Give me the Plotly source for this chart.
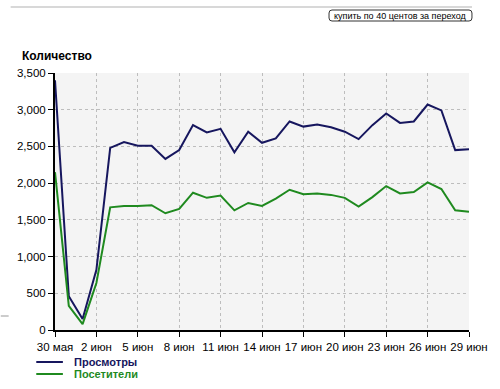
import plotly.graph_objects as go
import pandas as pd

dates = pd.date_range("2009-05-30", "2009-06-29", freq="D")
views = [3400, 460, 150, 820, 2480, 2560, 2510, 2510, 2330, 2450, 2790, 2690, 2740, 2420,
         2700, 2550, 2610, 2840, 2770, 2800, 2760, 2700, 2600, 2790, 2950, 2820, 2840,
         3070, 2990, 2450, 2460]
visitors = [2150, 330, 80, 640, 1670, 1690, 1690, 1700, 1590, 1650, 1870, 1800, 1830, 1630,
            1730, 1690, 1790, 1910, 1850, 1860, 1840, 1800, 1680, 1810, 1960, 1860, 1880,
            2010, 1920, 1630, 1610]
tick_dates = dates[::3]
tick_labels = ["30 мая", "2 июн", "5 июн", "8 июн", "11 июн", "14 июн", "17 июн",
               "20 июн", "23 июн", "26 июн", "29 июн"]
series_names = ["Просмотры", "Посетители"]
BLUE = "#16165e"
GREEN = "#1f8a1f"

W, H = 500, 389
L, R, T, B = 55, 475, 73, 330


def px(x):
    return (x - L) / (R - L)


def py(y):
    return (B - y) / (B - T)


fig = go.Figure()
fig.add_trace(go.Scatter(x=dates, y=views, mode="lines", name=series_names[0],
                         line=dict(color=BLUE, width=2)))
fig.add_trace(go.Scatter(x=dates, y=visitors, mode="lines", name=series_names[1],
                         line=dict(color=GREEN, width=2)))

font = "Liberation Sans, Arial, sans-serif"
fig.update_layout(
    width=W, height=H,
    margin=dict(l=L, r=W - R, t=T, b=H - B, pad=0),
    paper_bgcolor="white", plot_bgcolor="#f4f4f4",
    showlegend=False,
    font=dict(family=font, size=11, color="black"),
    xaxis=dict(range=[dates[0], dates[-1]], tickvals=tick_dates, ticktext=tick_labels,
               showline=True, linecolor="black", linewidth=2, ticks="outside",
               ticklen=5, tickcolor="black", tickwidth=1,
               showgrid=True, gridcolor="#bdbdbd", griddash="dot", gridwidth=1,
               zeroline=False, tickfont=dict(size=11.5), fixedrange=True),
    yaxis=dict(range=[0, 3500], dtick=500, tickformat=",d",
               showline=True, linecolor="black", linewidth=2, ticks="outside",
               ticklen=5, tickcolor="black", tickwidth=1,
               showgrid=True, gridcolor="#bdbdbd", griddash="dot", gridwidth=1,
               zeroline=False, tickfont=dict(size=11.5), fixedrange=True),
)

shapes = []
annotations = []

# title
annotations.append(dict(x=px(19), y=py(56), xref="paper", yref="paper", text="<b>Количество</b>",
                        showarrow=False, xanchor="left", yanchor="middle",
                        font=dict(size=12, family=font, color="black")))

# top separator line
shapes.append(dict(type="line", xref="paper", yref="paper", x0=px(10), x1=px(478),
                   y0=py(7), y1=py(7), line=dict(color="#d8d8d8", width=2)))
# small artifact line on left
shapes.append(dict(type="line", xref="paper", yref="paper", x0=px(0), x1=px(8),
                   y0=py(316), y1=py(316), line=dict(color="#999999", width=1)))

# button (rounded rect)
bx0, bx1, by0, by1, r = 333, 478, 10, 21, 3
path = (f"M {px(bx0 + r)},{py(by0)} L {px(bx1 - r)},{py(by0)} "
        f"Q {px(bx1)},{py(by0)} {px(bx1)},{py(by0 + r)} L {px(bx1)},{py(by1 - r)} "
        f"Q {px(bx1)},{py(by1)} {px(bx1 - r)},{py(by1)} L {px(bx0 + r)},{py(by1)} "
        f"Q {px(bx0)},{py(by1)} {px(bx0)},{py(by1 - r)} L {px(bx0)},{py(by0 + r)} "
        f"Q {px(bx0)},{py(by0)} {px(bx0 + r)},{py(by0)} Z")
shapes.append(dict(type="path", xref="paper", yref="paper", path=path,
                   line=dict(color="#333333", width=1), fillcolor="white"))
annotations.append(dict(x=px((bx0 + bx1) / 2), y=py((by0 + by1) / 2 + 0.5), xref="paper", yref="paper",
                        text="купить по 40 центов за переход", showarrow=False,
                        xanchor="center", yanchor="middle",
                        font=dict(size=9, family=font, color="black")))

# legend
for i, (name, col, yy) in enumerate([(series_names[0], BLUE, 362), (series_names[1], GREEN, 374)]):
    shapes.append(dict(type="line", xref="paper", yref="paper", x0=px(36), x1=px(63),
                       y0=py(yy), y1=py(yy), line=dict(color=col, width=2)))
    annotations.append(dict(x=px(72), y=py(yy), xref="paper", yref="paper",
                            text=f"<b>{name}</b>", showarrow=False, xanchor="left",
                            yanchor="middle", font=dict(size=11, family=font, color=col)))

fig.update_layout(shapes=shapes, annotations=annotations)
fig.write_html("out.html")
